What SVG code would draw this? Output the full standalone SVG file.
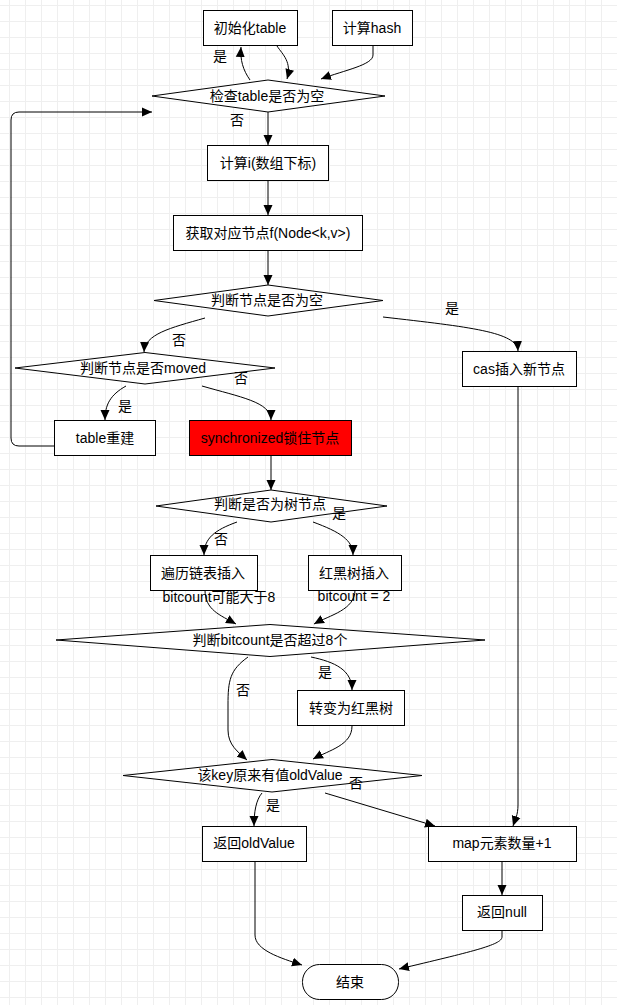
<svg xmlns="http://www.w3.org/2000/svg" width="617" height="1005" viewBox="0 0 617 1005">
<style>
.n rect, .n polygon { fill: #ffffff; stroke: #000000; stroke-width: 1; }
.t { font-family: "Liberation Sans", "Noto Sans CJK SC", sans-serif; font-size: 14px; fill: #000000; text-anchor: middle; dominant-baseline: central; }
.e path { fill: none; stroke: #000000; stroke-width: 1; }
.a { marker-end: url(#arr); }
</style>
<defs>
<pattern id="grid" x="9" y="5" width="16" height="16" patternUnits="userSpaceOnUse">
<path d="M0.5,0 L0.5,16 M0,0.5 L16,0.5" stroke="#efefef" stroke-width="1" fill="none"/>
</pattern>
<marker id="arr" markerUnits="userSpaceOnUse" markerWidth="10" markerHeight="10" refX="10" refY="5" orient="auto" viewBox="0 0 10 10">
<path d="M0,0.5 L10,5 L0,9.5 Z" fill="#000000"/>
</marker>
</defs>
<rect x="0" y="0" width="617" height="1005" fill="#ffffff"/>
<rect x="0" y="0" width="617" height="1005" fill="url(#grid)"/>

<g id="connectors" class="e">
<path class="a" d="M277,46 C283,55 292,62 287,79"/>
<path class="a" d="M250,80 C243,70 240,60 241,47"/>
<path class="a" d="M373,46 L373,55 C373,65 345,70 321,79"/>
<path class="a" d="M268,112 L268,145"/>
<path class="a" d="M268,181 L268,215"/>
<path class="a" d="M268,251 L268,285"/>
<path class="a" d="M383,317 C470,327 517,332 518,351"/>
<path class="a" d="M205,318 C170,328 145,334 144,352"/>
<path class="a" d="M126,386 C110,395 105,405 105,420"/>
<path class="a" d="M202,386 C240,397 271,402 271,420"/>
<path class="a" d="M54,446 L19,446 Q11,446 11,438 L11,120 Q11,112 19,112 L152,112"/>
<path class="a" d="M271,455 L271,490"/>
<path class="a" d="M237,522 C215,530 204,538 204,555"/>
<path class="a" d="M313,522 C340,532 353,540 353,555"/>
<path class="a" d="M205,590 C205,610 220,615 236,624"/>
<path class="a" d="M355,590 C355,610 330,615 314,624"/>
<path class="a" d="M248,657 C230,670 228,680 228,705 L228,730 C228,745 238,752 247,760"/>
<path class="a" d="M311,657 C335,662 352,670 352,690"/>
<path class="a" d="M352,726 C352,745 330,750 313,759"/>
<path class="a" d="M262,793 C256,800 254,812 254,826"/>
<path class="a" d="M325,793 L435,826"/>
<path class="a" d="M518,386 L518,805 C518,815 515,820 513,826"/>
<path class="a" d="M502,861 L502,895"/>
<path class="a" d="M255,861 L255,935 C255,950 280,958 302,965"/>
<path class="a" d="M502,930 L502,937 C502,945 470,952 399,969"/>
</g>

<g id="init-table" class="n"><rect x="203.5" y="10.5" width="94" height="35"/><text class="t" x="250" y="28">初始化table</text></g>
<g id="calc-hash" class="n"><rect x="332.5" y="10.5" width="80" height="35"/><text class="t" x="372" y="28">计算hash</text></g>
<g id="check-table" class="n"><polygon points="152,96 268,80 385,96 268,112"/><text class="t" x="267" y="96">检查table是否为空</text></g>
<g id="calc-i" class="n"><rect x="207.5" y="145.5" width="121" height="35"/><text class="t" x="268" y="163">计算i(数组下标)</text></g>
<g id="get-node" class="n"><rect x="173.5" y="215.5" width="189" height="35"/><text class="t" x="268" y="233">获取对应节点f(Node&lt;k,v&gt;)</text></g>
<g id="node-empty" class="n"><polygon points="154,300.5 268,285 383,300.5 268,316"/><text class="t" x="267" y="300">判断节点是否为空</text></g>
<g id="node-moved" class="n"><polygon points="15,368 145,352.5 275,368 145,384"/><text class="t" x="143" y="368">判断节点是否moved</text></g>
<g id="table-rebuild" class="n"><rect x="54.5" y="420.5" width="101" height="35"/><text class="t" x="105" y="438">table重建</text></g>
<g id="sync-lock" class="n"><rect x="189.5" y="420.5" width="162" height="35" style="fill:#ff0000"/><text class="t" x="270" y="438">synchronized锁住节点</text></g>
<g id="cas-insert" class="n"><rect x="462.5" y="351.5" width="114" height="35"/><text class="t" x="519" y="369">cas插入新节点</text></g>
<g id="is-tree" class="n"><polygon points="156,506 271,490 387,506 271,522"/><text class="t" x="270" y="504">判断是否为树节点</text></g>
<g id="list-insert" class="n"><rect x="150.5" y="555.5" width="107" height="35"/><text class="t" x="203" y="573">遍历链表插入</text></g>
<g id="rb-insert" class="n"><rect x="308.5" y="555.5" width="93" height="35"/><text class="t" x="354" y="573">红黑树插入</text></g>
<g id="bitcount-check" class="n"><polygon points="56,640 270,624.5 485,640 270,656.5"/><text class="t" x="270" y="640">判断bitcount是否超过8个</text></g>
<g id="to-rbtree" class="n"><rect x="297.5" y="690.5" width="107" height="35"/><text class="t" x="351" y="708">转变为红黑树</text></g>
<g id="has-old" class="n"><polygon points="123,775.5 272,759.5 422,775.5 272,792"/><text class="t" x="270" y="775">该key原来有值oldValue</text></g>
<g id="return-old" class="n"><rect x="202.5" y="826.5" width="104" height="35"/><text class="t" x="254" y="843">返回oldValue</text></g>
<g id="count-inc" class="n"><rect x="428.5" y="826.5" width="148" height="35"/><text class="t" x="502" y="843">map元素数量+1</text></g>
<g id="return-null" class="n"><rect x="462.5" y="895.5" width="80" height="35"/><text class="t" x="502" y="912">返回null</text></g>
<g id="end" class="n"><rect x="302.5" y="964.5" width="96" height="35" rx="17" ry="17"/><text class="t" x="350" y="982">结束</text></g>

<g id="edge-labels">
<text class="t" x="220" y="56">是</text>
<text class="t" x="237" y="120">否</text>
<text class="t" x="452" y="308">是</text>
<text class="t" x="179" y="340">否</text>
<text class="t" x="125" y="406">是</text>
<text class="t" x="241" y="378">否</text>
<text class="t" x="221" y="539">否</text>
<text class="t" x="339" y="513">是</text>
<text class="t" x="219" y="597">bitcount可能大于8</text>
<text class="t" x="354" y="596">bitcount = 2</text>
<text class="t" x="243" y="690">否</text>
<text class="t" x="325" y="672">是</text>
<text class="t" x="356" y="783">否</text>
<text class="t" x="273" y="805">是</text>
</g>
</svg>
